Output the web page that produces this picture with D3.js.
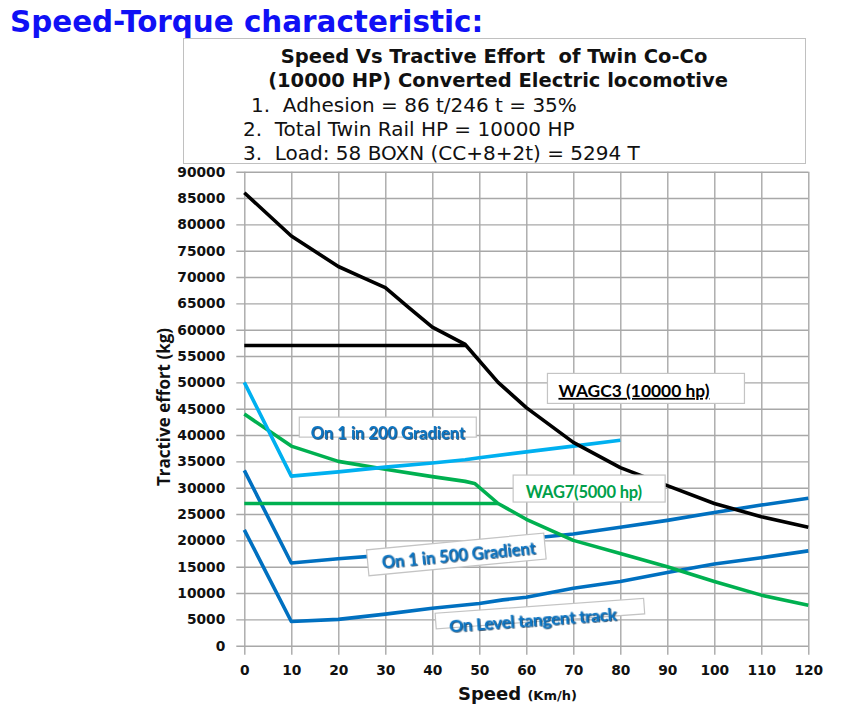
<!DOCTYPE html>
<html>
<head>
<meta charset="utf-8">
<script src="https://cdn.jsdelivr.net/npm/d3@7"></script>
<style>
  body { margin: 0; background: #fff; }
  text { white-space: pre; }
</style>
</head>
<body>
<svg id="chart" width="865" height="714"></svg>
<script>
// Axis ticks
const speedTicks = d3.range(0, 121, 10);
const effortTicks = d3.range(0, 90001, 5000);

// Curves: [speed km/h, tractive effort kg]
const wagc3Curve = [[0, 86000], [10, 77800], [20, 72000], [25, 70000], [30, 68000], [35, 64200],
  [40, 60500], [47, 57200], [54, 50000], [60, 45200], [70, 38600], [80, 33800], [90, 30400],
  [100, 27000], [110, 24500], [120, 22500]];
const wagc3Limit = [[0, 57000], [47, 57000]];

const wag7Curve = [[0, 44000], [10, 37900], [20, 35000], [30, 33500], [40, 32100], [47, 31200],
  [49, 30800], [54, 27000], [60, 24000], [70, 20000], [80, 17500], [90, 15000], [100, 12200],
  [110, 9600], [120, 7700]];
const wag7Limit = [[0, 27000], [54, 27000]];

const grade200 = [[0, 50000], [10, 32200], [20, 33000], [30, 33900], [40, 34700], [47, 35300],
  [50, 35700], [60, 36800], [70, 37900], [80, 39000]];
const grade500 = [[0, 33300], [10, 15700], [20, 16500], [30, 17200], [40, 18000], [50, 19000],
  [60, 20300], [70, 21200], [80, 22500], [90, 23800], [100, 25300], [110, 26700], [120, 28000]];
const levelTrack = [[0, 22000], [10, 4600], [20, 5000], [30, 6000], [40, 7100], [50, 8000],
  [55, 8700], [60, 9200], [70, 10900], [80, 12200], [90, 13900], [100, 15500], [110, 16700],
  [120, 18000]];

const titleLines = ['Speed Vs Tractive Effort  of Twin Co-Co', '(10000 HP) Converted Electric locomotive'];
const noteLines = ['1.  Adhesion = 86 t/246 t = 35%', '2.  Total Twin Rail HP = 10000 HP',
  '3.  Load: 58 BOXN (CC+8+2t) = 5294 T'];

const svg = d3.select('#chart');

const x = d3.scaleLinear().domain([0, 120]).range([244.3, 808.3]);
const y = d3.scaleLinear().domain([0, 90000]).range([645.7, 171.7]);
const plotW = x(120) - x(0);
const plotH = y(0) - y(90000);

// Heading
svg.append('text')
  .attr('x', 10).attr('y', 32)
  .attr('font-family', 'DejaVu Sans').attr('font-weight', 'bold').attr('font-size', 29.4)
  .attr('fill', '#1010f5')
  .text('Speed-Torque characteristic:');

// Title box
svg.append('rect')
  .attr('x', 183.5).attr('y', 38.5).attr('width', 622).attr('height', 125)
  .attr('fill', '#fff').attr('stroke', '#c0c0c0');

svg.selectAll('text.title')
  .data(titleLines)
  .join('text')
  .attr('class', 'title')
  .attr('x', (d, i) => i === 0 ? 494 : 498)
  .attr('y', (d, i) => 63 + i * 24)
  .attr('text-anchor', 'middle')
  .attr('font-family', 'DejaVu Sans').attr('font-weight', 'bold').attr('font-size', 19.5)
  .attr('fill', '#111')
  .text(d => d);

svg.selectAll('text.note')
  .data(noteLines)
  .join('text')
  .attr('class', 'note')
  .attr('x', (d, i) => i === 0 ? 251 : 243)
  .attr('y', (d, i) => [112, 136, 160][i])
  .attr('font-family', 'DejaVu Sans').attr('font-size', 20)
  .attr('fill', '#111')
  .text(d => d);

// Grid + axes
const yAxis = svg.append('g')
  .attr('transform', `translate(${x(0)},0)`)
  .call(d3.axisLeft(y).tickValues(effortTicks).tickFormat(d3.format('d'))
    .tickSizeInner(-plotW).tickSizeOuter(0).tickPadding(19));
yAxis.select('.domain').remove();
yAxis.selectAll('line').attr('x1', -8).attr('stroke', '#a8a8a8').attr('stroke-width', 1.4);
yAxis.selectAll('text')
  .attr('font-family', 'DejaVu Sans').attr('font-weight', 'bold').attr('font-size', 13.8).attr('fill', '#111');

const xAxis = svg.append('g')
  .attr('transform', `translate(0,${y(0)})`)
  .call(d3.axisBottom(x).tickValues(speedTicks).tickSizeInner(-plotH).tickSizeOuter(0).tickPadding(20));
xAxis.select('.domain').remove();
xAxis.selectAll('line').attr('y1', 9).attr('stroke', '#a8a8a8').attr('stroke-width', 1.4);
xAxis.selectAll('text')
  .attr('font-family', 'DejaVu Sans').attr('font-weight', 'bold').attr('font-size', 13.8).attr('fill', '#111');

// Axis titles
svg.append('text')
  .attr('transform', 'translate(170,407) rotate(-90)')
  .attr('text-anchor', 'middle')
  .attr('font-family', 'Open Sans').attr('font-weight', 'bold').attr('font-size', 17)
  .attr('fill', '#111')
  .text('Tractive effort (kg)');

const xTitle = svg.append('text')
  .attr('x', 458).attr('y', 700)
  .attr('font-family', 'DejaVu Sans').attr('font-weight', 'bold').attr('fill', '#111');
xTitle.append('tspan').attr('font-size', 18).text('Speed ');
xTitle.append('tspan').attr('font-size', 13).text('(Km/h)');

// Curves
const line = d3.line().x(d => x(d[0])).y(d => y(d[1]));
const series = [
  { data: levelTrack, color: '#0070c0' },
  { data: grade500, color: '#0070c0' },
  { data: wag7Limit, color: '#00b050' },
  { data: wag7Curve, color: '#00b050' },
  { data: grade200, color: '#00b0f0' },
  { data: wagc3Limit, color: '#000' },
  { data: wagc3Curve, color: '#000' }
];
svg.append('g')
  .selectAll('path')
  .data(series)
  .join('path')
  .attr('d', d => line(d.data))
  .attr('fill', 'none')
  .attr('stroke', d => d.color)
  .attr('stroke-width', 3.6)
  .attr('stroke-linejoin', 'round');

// Shadow for the blue labels
const defs = svg.append('defs');
defs.append('filter').attr('id', 'shadow')
  .attr('x', '-10%').attr('y', '-30%').attr('width', '120%').attr('height', '160%')
  .append('feDropShadow')
  .attr('dx', 0.8).attr('dy', 0.8).attr('stdDeviation', 0.4)
  .attr('flood-color', '#00264d').attr('flood-opacity', 0.9);

// Annotation boxes, anchored at their top-left corner in data coordinates
const labels = [
  { text: 'WAGC3 (10000 hp)', speed: 64.5, effort: 51700, w: 197, h: 30, tx: 11, ty: 23.5, angle: 0,
    color: '#000', size: 17.4, underline: true },
  { text: 'WAG7(5000 hp)', speed: 57.2, effort: 32400, w: 152, h: 27, tx: 12.5, ty: 22.5, angle: 0,
    color: '#00a04a', size: 16.5, spacing: -0.2 },
  { text: 'On 1 in 200 Gradient', speed: 11.7, effort: 43400, w: 177, h: 20, tx: 11.5, ty: 21.5, angle: 0,
    color: '#0a74c2', size: 16.5, shadow: true },
  { text: 'On 1 in 500 Gradient', speed: 26.0, effort: 18200, w: 178, h: 26, tx: 14, ty: 20, angle: -5.4,
    color: '#0a74c2', size: 16.5, shadow: true },
  { text: 'On Level tangent track', speed: 40.6, effort: 6150, w: 209, h: 15.5, tx: 13, ty: 20.5, angle: -4.1,
    color: '#0a74c2', size: 17.5, shadow: true, spacing: -0.4 }
];

const lab = svg.append('g')
  .selectAll('g')
  .data(labels)
  .join('g')
  .attr('transform', d => `translate(${x(d.speed)},${y(d.effort)}) rotate(${d.angle})`);

lab.append('rect')
  .attr('width', d => d.w).attr('height', d => d.h)
  .attr('fill', '#fff').attr('stroke', '#c4c4c4').attr('stroke-width', 1.2);

lab.append('text')
  .attr('x', d => d.tx).attr('y', d => d.ty)
  .attr('font-family', 'Lato').attr('font-weight', 'bold')
  .attr('font-size', d => d.size)
  .attr('letter-spacing', d => d.spacing || 0)
  .attr('fill', d => d.color)
  .attr('text-decoration', d => d.underline ? 'underline' : null)
  .attr('filter', d => d.shadow ? 'url(#shadow)' : null)
  .text(d => d.text);
</script>
</body>
</html>
